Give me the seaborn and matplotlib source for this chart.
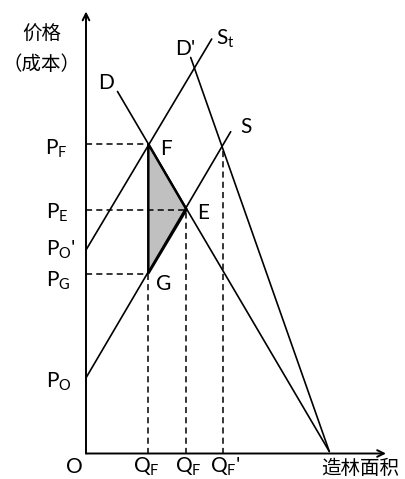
import numpy as np
import pandas as pd
import seaborn as sns
import matplotlib.pyplot as plt
from matplotlib.patches import Polygon

sns.set_style("white")
plt.rcParams['font.family'] = ['Lato', 'Noto Sans CJK SC', 'DejaVu Sans']
plt.rcParams['mathtext.default'] = 'regular'

# price levels on the vertical axis
p_o = 76.5
p_o2 = 203.5
p_g = 180.0
p_e = 244.0
p_f = 309.5
p_f2 = 307.0   # S meets D'

# quantities on the horizontal axis
q_f = 62.3
q_e = 100.5
q_f2 = 136.7

# end points of each curve (q, p)
d_q = [31.5, 243.3]
d_p = [362.0, 2.0]
d2_q = [104.7, 243.3]
d2_p = [396.0, 2.0]
st_q = [0.0, 125.7]
st_p = [p_o2, 414.5]
s_q = [0.5, 144.7]
s_p = [p_o, 321.8]

curves = pd.DataFrame({
    'q': d_q + d2_q + st_q + s_q,
    'p': d_p + d2_p + st_p + s_p,
    'curve': ['D'] * 2 + ["D'"] * 2 + ['St'] * 2 + ['S'] * 2,
})

fig = plt.figure(figsize=(4.06, 4.79), dpi=100)
ax = fig.add_axes([0, 0, 1, 1])
ax.set_xlim(-86, 320)
ax.set_ylim(-25.5, 453.5)
ax.axis('off')

# shaded triangle F-E-G: fill under the dashes, edges on top
tri_pts = [(q_f, p_f), (q_e, p_e), (q_f, p_g)]
ax.add_patch(Polygon(tri_pts, closed=True, facecolor='#c0c0c0',
                     edgecolor='none', zorder=1))
ax.add_patch(Polygon(tri_pts, closed=True, facecolor='none',
                     edgecolor='black', lw=1.8, zorder=4))

sns.lineplot(data=curves, x='q', y='p', units='curve', estimator=None,
             sort=False, color='black', lw=1.2, ax=ax, zorder=3)

# dashed guide lines
dash = dict(color='black', lw=1.1, ls=(0, (4, 2.7)), zorder=2)
ax.plot([0, q_f], [p_f, p_f], **dash)
ax.plot([0, q_e], [p_e, p_e], **dash)
ax.plot([0, q_f], [p_g, p_g], **dash)
ax.plot([q_f, q_f], [0, p_g], **dash)
ax.plot([q_e, q_e], [0, p_e], **dash)
ax.plot([q_f2, q_f2], [0, p_f2], **dash)

# axes with arrows
arrow = dict(arrowstyle='->', lw=1.4, color='black', shrinkA=0, shrinkB=0,
             mutation_scale=12)
ax.annotate('', xy=(0, 442), xytext=(0, 0), arrowprops=arrow)
ax.annotate('', xy=(300, 0), xytext=(0, 0), arrowprops=arrow)

fs = 15
lab = dict(fontsize=fs, ha='left', va='baseline', color='black')
ax.text(12, 364.5, 'D', **lab)
ax.text(89, 398.5, "D'", **lab)
ax.text(130, 408.5, 'S$_t$', **lab)
ax.text(154, 320.5, 'S', **lab)
ax.text(74, 298.5, 'F', **lab)
ax.text(111, 234.5, 'E', **lab)
ax.text(70, 163.5, 'G', **lab)

ax.text(-41, 298.5, 'P$_F$', **lab)
ax.text(-40, 234.5, 'P$_E$', **lab)
ax.text(-40, 197.5, "P$_O$'", **lab)
ax.text(-40, 166.5, 'P$_G$', **lab)
ax.text(-40, 65.5, 'P$_O$', **lab)

ax.text(-20, -19.5, 'O', **lab)
ax.text(47, -19.5, 'Q$_F$', **lab)
ax.text(89, -19.5, 'Q$_F$', **lab)
ax.text(124, -19.5, "Q$_F$'", **lab)

cjk = dict(fontsize=14, ha='center', va='center', color='black',
           family=['Noto Sans CJK SC', 'DejaVu Sans'])
ax.text(-44, 419.5, '价格', **cjk)
ax.text(-44, 389.5, '（成本）', **cjk)
ax.text(274, -15.0, '造林面积', **cjk)

fig.savefig('out.png', dpi=100)
